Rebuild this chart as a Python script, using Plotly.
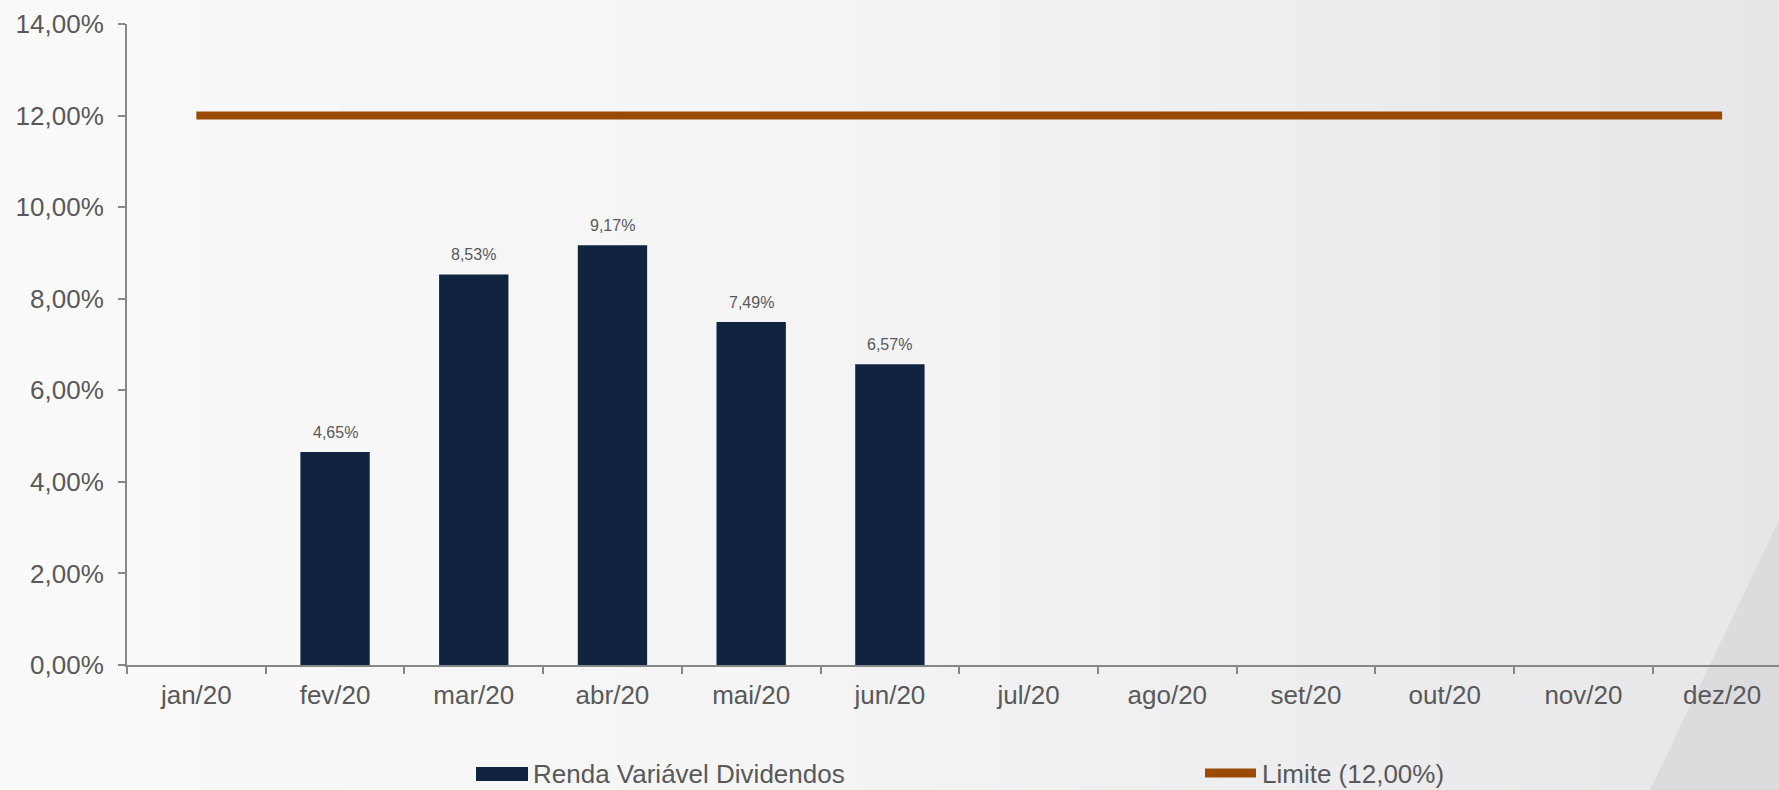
import plotly.graph_objects as go

months = ["jan/20", "fev/20", "mar/20", "abr/20", "mai/20", "jun/20",
          "jul/20", "ago/20", "set/20", "out/20", "nov/20", "dez/20"]
dividendos = [None, 4.65, 8.53, 9.17, 7.49, 6.57, None, None, None, None, None, None]
limite = [12, 12, 12, 12, 12, 12, 12, 12, 12, 12, 12, 12]
y_ticks = [0, 2, 4, 6, 8, 10, 12, 14]
serie_bar = "Renda Variável Dividendos"
serie_line = "Limite (12,00%)"

BAR_COLOR = "#11243F"
LINE_COLOR = "#9A4A04"
TEXT_COLOR = "#595959"
AXIS_COLOR = "#878787"
FONT = "Liberation Sans, Arial, sans-serif"

W, H = 1779, 790
L, R, T, B = 127, 0, 24, 125
PW, PH = W - L - R, H - T - B


def px(x):
    return (x - L) / PW


def py(y):
    return (H - B - y) / PH


def pct(v):
    return f"{v:.2f}%".replace(".", ",")


fig = go.Figure()
fig.add_trace(go.Bar(x=months, y=dividendos, name=serie_bar, width=0.5,
                     marker=dict(color=BAR_COLOR, line=dict(width=0)),
                     showlegend=False))
fig.add_trace(go.Scatter(x=months, y=limite, name=serie_line, mode="lines",
                         line=dict(color=LINE_COLOR, width=8),
                         showlegend=False))

# data labels
for m, v in zip(months, dividendos):
    if v is None:
        continue
    fig.add_annotation(x=m, y=v, xref="x", yref="y", text=pct(v),
                       showarrow=False, yshift=20,
                       font=dict(size=16, color=TEXT_COLOR, family=FONT))

# background gradient
stops = [(0, (250, 250, 250)), (820, (244, 244, 245)), (1779, (231, 231, 233))]


def col_at(x):
    for (x0, c0), (x1, c1) in zip(stops[:-1], stops[1:]):
        if x0 <= x <= x1:
            t = (x - x0) / (x1 - x0)
            return "rgb(%d,%d,%d)" % tuple(round(a + (b - a) * t) for a, b in zip(c0, c1))
    return "rgb(%d,%d,%d)" % stops[-1][1]


shapes = []
step = 20
for x0 in range(0, W, step):
    x1 = min(W, x0 + step + 1)
    shapes.append(dict(type="rect", xref="paper", yref="paper", layer="below",
                       x0=px(x0), x1=px(x1), y0=py(H), y1=py(0),
                       fillcolor=col_at(x0 + step / 2), line=dict(width=0)))
# diagonal darker shape bottom right
shapes.append(dict(type="path", xref="paper", yref="paper", layer="below",
                   path=f"M {px(1779)},{py(520)} L {px(1779)},{py(790)} L {px(1650)},{py(790)} Z",
                   fillcolor="#DCDCDE", line=dict(width=0)))

# manual legend
shapes.append(dict(type="rect", xref="paper", yref="paper",
                   x0=px(476), x1=px(528), y0=py(781), y1=py(767),
                   fillcolor=BAR_COLOR, line=dict(width=0)))
shapes.append(dict(type="line", xref="paper", yref="paper",
                   x0=px(1205), x1=px(1256), y0=py(773), y1=py(773),
                   line=dict(color=LINE_COLOR, width=9)))
fig.add_annotation(xref="paper", yref="paper", x=px(531), y=py(774), xanchor="left",
                   yanchor="middle", text=serie_bar, showarrow=False,
                   font=dict(size=26, color=TEXT_COLOR, family=FONT))
fig.add_annotation(xref="paper", yref="paper", x=px(1260), y=py(774), xanchor="left",
                   yanchor="middle", text=serie_line, showarrow=False,
                   font=dict(size=26, color=TEXT_COLOR, family=FONT))

fig.update_layout(
    width=W, height=H,
    margin=dict(l=L, r=R, t=T, b=B, pad=0),
    paper_bgcolor="#F4F4F5",
    plot_bgcolor="rgba(0,0,0,0)",
    font=dict(family=FONT, size=26, color=TEXT_COLOR),
    shapes=shapes,
    showlegend=False,
    xaxis=dict(type="category", range=[-0.5, 11.41], tickson="boundaries",
               ticks="outside", ticklen=7, tickwidth=2, tickcolor=AXIS_COLOR,
               showline=True, linecolor=AXIS_COLOR, linewidth=2,
               showgrid=False, zeroline=False, ticklabelstandoff=6,
               tickfont=dict(size=26, color=TEXT_COLOR, family=FONT)),
    yaxis=dict(range=[0, 14], tickvals=y_ticks, ticktext=[pct(v) for v in y_ticks],
               ticks="outside", ticklen=7, tickwidth=2, tickcolor=AXIS_COLOR,
               showline=True, linecolor=AXIS_COLOR, linewidth=2,
               showgrid=False, zeroline=False, ticklabelstandoff=9,
               tickfont=dict(size=26, color=TEXT_COLOR, family=FONT)),
)

fig.write_html("out.html", config={"displayModeBar": False},
               post_script="document.body.style.margin='0';document.body.style.overflow='hidden';")
